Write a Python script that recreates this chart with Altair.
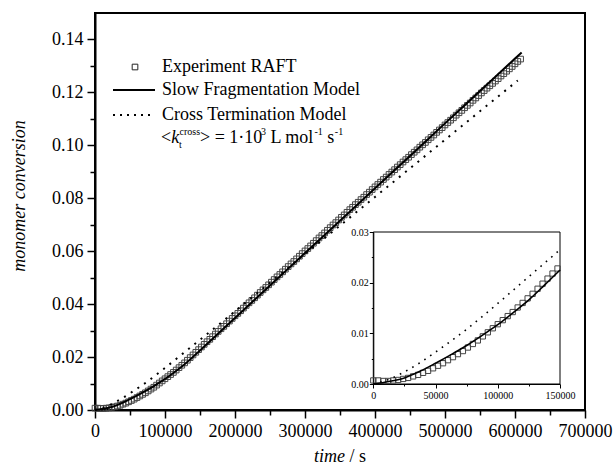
import altair as alt
import pandas as pd

FONT = "Liberation Serif"

# ---------------- data ----------------
exp_step = 4000  # sampling interval of the experiment (s)
exp_conv = [
    0.0007, 0.0007, 0.0006, 0.0006, 0.0007, 0.0008, 0.0010, 0.0012, 0.0015, 0.0018,
    0.0022, 0.0026, 0.0031, 0.0036, 0.0041, 0.0047, 0.0053, 0.0059, 0.0065, 0.0072,
    0.0079, 0.0086, 0.0094, 0.0102, 0.0110, 0.0118, 0.0126, 0.0134, 0.0142, 0.0151,
    0.0160, 0.0169, 0.0178, 0.0188, 0.0198, 0.0208, 0.0218, 0.0228,
    0.0238, 0.0248, 0.0258, 0.0267, 0.0277, 0.0287, 0.0297, 0.0307, 0.0316, 0.0326,
    0.0336, 0.0346, 0.0356, 0.0365, 0.0375, 0.0385, 0.0395, 0.0405, 0.0414, 0.0424,
    0.0434, 0.0444, 0.0454, 0.0463, 0.0473, 0.0483, 0.0493, 0.0503, 0.0512, 0.0522,
    0.0532, 0.0542, 0.0552, 0.0561, 0.0571, 0.0581, 0.0591, 0.0601, 0.0610, 0.0620,
    0.0630, 0.0640, 0.0650, 0.0659, 0.0669, 0.0679, 0.0689, 0.0699, 0.0708, 0.0718,
    0.0728, 0.0737, 0.0747, 0.0757, 0.0766, 0.0776, 0.0785, 0.0795, 0.0804, 0.0814,
    0.0823, 0.0833, 0.0843, 0.0852, 0.0861, 0.0871, 0.0880, 0.0890, 0.0899, 0.0908,
    0.0918, 0.0927, 0.0937, 0.0946, 0.0955, 0.0965, 0.0974, 0.0983, 0.0993, 0.1002,
    0.1011, 0.1021, 0.1030, 0.1039, 0.1049, 0.1058, 0.1067, 0.1077, 0.1086, 0.1095,
    0.1104, 0.1114, 0.1123, 0.1132, 0.1142, 0.1151, 0.1160, 0.1170, 0.1179, 0.1188,
    0.1198, 0.1207, 0.1216, 0.1225, 0.1234, 0.1243, 0.1252, 0.1262, 0.1271, 0.1280,
    0.1289, 0.1298, 0.1308, 0.1317, 0.1326,
]
exp_time = [i * exp_step for i in range(len(exp_conv))]

slow_time = [0, 12500, 25000, 37500, 50000, 62500, 75000, 87500, 100000, 112500,
             125000, 137500, 150000, 175000, 200000, 250000, 300000, 350000, 400000,
             450000, 500000, 550000, 600000, 609500]
slow_conv = [0.0, 0.0005, 0.0012, 0.0025, 0.0041, 0.0058, 0.0076, 0.0096, 0.0117, 0.0141,
             0.0166, 0.0195, 0.0225, 0.0286, 0.0348, 0.0470, 0.0593, 0.0715, 0.0838,
             0.0960, 0.1083, 0.1205, 0.1328, 0.1351]

cross_time = [0, 12500, 25000, 37500, 50000, 62500, 75000, 87500, 100000, 125000,
              150000, 200000, 250000, 300000, 350000, 400000, 450000, 500000, 550000, 604000]
cross_conv = [0.0, 0.0009, 0.0024, 0.0042, 0.0063, 0.0085, 0.0108, 0.0133, 0.0159, 0.0212,
              0.0265, 0.0373, 0.0481, 0.0589, 0.0697, 0.0805, 0.0913, 0.1021, 0.1129, 0.1245]

main_x_ticks = [0, 50000, 100000, 150000, 200000, 250000, 300000, 350000,
                400000, 450000, 500000, 550000, 600000, 650000, 700000]
main_y_ticks = [0.00, 0.01, 0.02, 0.03, 0.04, 0.05, 0.06, 0.07, 0.08, 0.09,
                0.10, 0.11, 0.12, 0.13, 0.14]
inset_x_ticks = [0, 25000, 50000, 75000, 100000, 125000, 150000]
inset_y_ticks = [0.0, 0.005, 0.01, 0.015, 0.02, 0.025, 0.03]

legend_labels = ["Experiment RAFT", "Slow Fragmentation Model", "Cross Termination Model"]

exp_df = pd.DataFrame({"time": exp_time, "conv": exp_conv})
slow_df = pd.DataFrame({"time": slow_time, "conv": slow_conv})
cross_df = pd.DataFrame({"time": cross_time, "conv": cross_conv})
one = pd.DataFrame({"k": [0]})

SQUARE_COLOR = "#444444"

# ---------------- main axes ----------------
main_x_axis = alt.Axis(
    orient="bottom", values=main_x_ticks, title=None, grid=False,
    labelExpr="datum.value % 100000 === 0 ? format(datum.value, 'd') : ''",
    tickSize={"condition": {"test": "datum.value % 100000 === 0", "value": 8}, "value": 5},
    labelFont=FONT, labelFontSize=18, labelColor="black", labelPadding=4,
    tickColor="black", tickWidth=1.5, domainColor="black", domainWidth=2,
    labelOverlap=False, labelFlush=False,
)
main_y_axis = alt.Axis(
    orient="left", values=main_y_ticks, title=None, grid=False,
    labelExpr="round(datum.value * 100) % 2 === 0 ? format(datum.value, '.2f') : ''",
    tickSize={"condition": {"test": "round(datum.value * 100) % 2 === 0", "value": 8}, "value": 5},
    labelFont=FONT, labelFontSize=18, labelColor="black", labelPadding=4,
    tickColor="black", tickWidth=1.5, domainColor="black", domainWidth=2,
    labelOverlap=False, labelFlush=False,
)
mx = alt.X("time:Q", scale=alt.Scale(domain=[0, 700000], nice=False, zero=False), axis=main_x_axis)
my = alt.Y("conv:Q", scale=alt.Scale(domain=[0, 0.15], nice=False, zero=False), axis=main_y_axis)

exp_main = alt.Chart(exp_df).mark_point(
    shape="square", size=32, filled=False, color=SQUARE_COLOR, strokeWidth=1, opacity=1
).encode(x=mx, y=my)
slow_main = alt.Chart(slow_df).mark_line(
    color="black", strokeWidth=2, interpolate="monotone"
).encode(x=mx, y=my)
cross_main = alt.Chart(cross_df).mark_line(
    color="black", strokeWidth=2, strokeDash=[2, 6], interpolate="monotone"
).encode(x=mx, y=my)


def label(text, x, y, size=18, style="normal", align="left", baseline="alphabetic", angle=0):
    return alt.Chart(one).mark_text(
        text=text, font=FONT, fontSize=size, fontStyle=style, align=align,
        baseline=baseline, angle=angle, color="black"
    ).encode(x=alt.value(x), y=alt.value(y))


leg_square = alt.Chart(one).mark_point(
    shape="square", size=32, filled=False, color="#222222", strokeWidth=1, opacity=1
).encode(x=alt.value(40), y=alt.value(54))
leg_solid = alt.Chart(one).mark_rule(color="black", strokeWidth=2).encode(
    x=alt.value(18), x2=alt.value(60), y=alt.value(77))
leg_dot = alt.Chart(one).mark_rule(color="black", strokeWidth=2, strokeDash=[2, 5]).encode(
    x=alt.value(18), x2=alt.value(60), y=alt.value(102))

annotations = [
    label(legend_labels[0], 67, 54, baseline="middle"),
    label(legend_labels[1], 67, 77, baseline="middle"),
    label(legend_labels[2], 67, 102, baseline="middle"),
    label("<", 66, 130),
    label("k", 76.2, 130, style="italic"),
    label("t", 84, 135, size=10),
    label("cross", 84.5, 122, size=10),
    label(">", 105, 130),
    label("= 1·10", 119.7, 130),
    label("3", 166, 122, size=10),
    label("L mol", 175.5, 130),
    label("-1", 219.5, 122, size=10),
    label("s", 232.3, 130),
    label("-1", 239.8, 122, size=10),
    # axis titles
    label("monomer conversion", -75, 183, style="italic", align="center", baseline="middle", angle=270),
    label("time", 250, 449, style="italic", align="right"),
    label("/ s", 254.5, 449),
]

main = alt.layer(exp_main, slow_main, cross_main, leg_square, leg_solid, leg_dot, *annotations)

# ---------------- inset ----------------
inset_x_axis = alt.Axis(
    orient="bottom", offset=-26, values=inset_x_ticks, title=None, grid=False,
    labelExpr="datum.value % 50000 === 0 ? format(datum.value, 'd') : ''",
    tickSize={"condition": {"test": "datum.value % 50000 === 0", "value": 4}, "value": 2},
    labelFont=FONT, labelFontSize=10, labelColor="black", labelPadding=2,
    tickColor="black", tickWidth=1, domainColor="black", domainWidth=1,
    labelOverlap=False, labelFlush=False,
)
inset_y_axis = alt.Axis(
    orient="left", offset=-278.3, values=inset_y_ticks, title=None, grid=False,
    labelExpr="round(datum.value * 1000) % 10 === 0 ? format(datum.value, '.2f') : ''",
    tickSize={"condition": {"test": "round(datum.value * 1000) % 10 === 0", "value": 4}, "value": 2},
    labelFont=FONT, labelFontSize=10, labelColor="black", labelPadding=1,
    tickColor="black", tickWidth=1, domainColor="black", domainWidth=1,
    labelOverlap=False, labelFlush=False,
)
ix_scale = alt.Scale(domain=[0, 150000], range=[278.3, 465], nice=False, zero=False)
iy_scale = alt.Scale(domain=[0, 0.03], range=[371, 219], nice=False, zero=False)
ix = alt.X("time:Q", scale=ix_scale, axis=inset_x_axis)
iy = alt.Y("conv:Q", scale=iy_scale, axis=inset_y_axis)

inset_frame = alt.Chart(one).mark_rect(
    fill="white", fillOpacity=0, stroke="black", strokeWidth=1
).encode(
    x=alt.XDatum(0, type="quantitative", scale=ix_scale, axis=inset_x_axis),
    x2=alt.X2Datum(150000),
    y=alt.YDatum(0, type="quantitative", scale=iy_scale, axis=inset_y_axis),
    y2=alt.Y2Datum(0.03),
)
exp_in = alt.Chart(exp_df).transform_filter("datum.time <= 150000").mark_point(
    shape="square", size=28, filled=False, color=SQUARE_COLOR, strokeWidth=1, opacity=1
).encode(x=ix, y=iy)
slow_in = alt.Chart(slow_df).transform_filter("datum.time <= 150000").mark_line(
    color="black", strokeWidth=1.6, interpolate="monotone"
).encode(x=ix, y=iy)
cross_in = alt.Chart(cross_df).transform_filter("datum.time <= 150000").mark_line(
    color="black", strokeWidth=1.6, strokeDash=[1.6, 5.5], interpolate="monotone"
).encode(x=ix, y=iy)

inset = alt.layer(inset_frame, exp_in, slow_in, cross_in)

chart = alt.layer(main, inset).resolve_scale(
    x="independent", y="independent"
).properties(
    width=490, height=397,
    autosize=alt.AutoSizeParams(type="none"),
    padding={"left": 95, "top": 13, "right": 28, "bottom": 60},
    background="white",
).configure_view(stroke="black", strokeWidth=2)

chart.save("out.html", embed_options={"renderer": "svg", "actions": False})
